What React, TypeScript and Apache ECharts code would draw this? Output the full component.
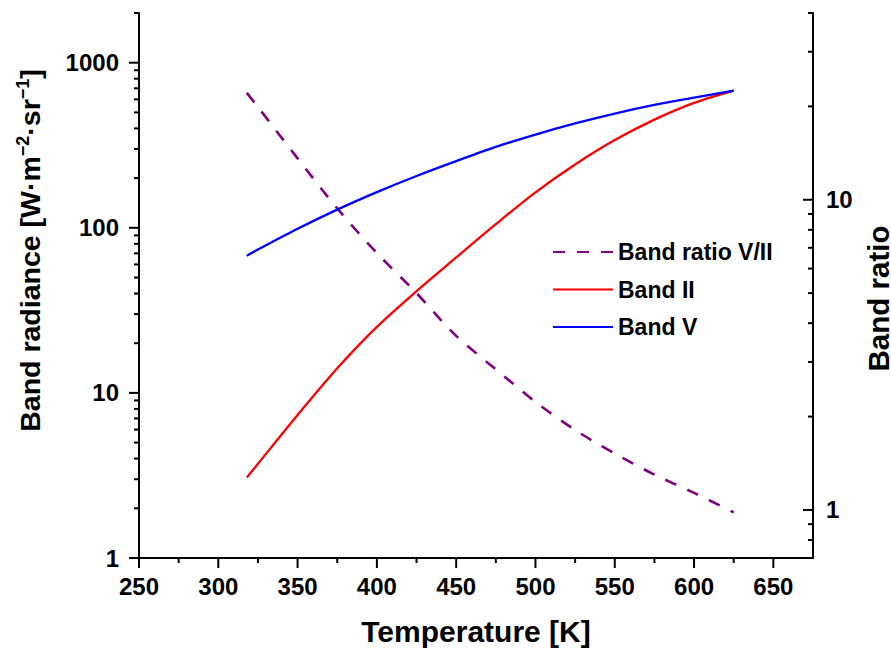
import React, { useEffect, useRef } from "react";
import * as echarts from "echarts";

const temperatures = [318, 325, 350, 375, 400, 425, 450, 475, 500, 525, 550, 575, 600, 625];
const bandII = [3.07, 3.72, 7.35, 14.1, 25.1, 41.3, 66.1, 105.2, 164, 242, 340, 452, 571, 678];
const bandV = [67.8, 73.8, 98.6, 128.8, 164.4, 206, 253.5, 309, 367, 428.5, 492, 554.6, 613.8, 677.6];
const bandRatio = [22.1, 19.9, 13.6, 9.38, 6.73, 5.0, 3.64, 2.84, 2.23, 1.81, 1.52, 1.3, 1.135, 0.982];

const xMajorTicks = [250, 300, 350, 400, 450, 500, 550, 600, 650];
const xMinorTicks = [275, 325, 375, 425, 475, 525, 575, 625];
const leftMajorTicks = [1, 10, 100, 1000];
const leftMinorTicks = [2, 3, 4, 5, 6, 7, 8, 9, 20, 30, 40, 50, 60, 70, 80, 90, 200, 300, 400, 500, 600, 700, 800, 900, 2000];
const rightMajorTicks = [1, 10];
const rightMinorTicks = [0.7, 0.8, 0.9, 2, 3, 4, 5, 6, 7, 8, 9, 20, 30, 40];

const X_MIN = 250;
const X_MAX = 675;
const LEFT_MIN = 1;
const LEFT_MAX = 2000;
const RIGHT_MIN = 0.7;
const RIGHT_MAX = 40;

const FONT = '"Liberation Sans", Arial, Helvetica, sans-serif';
const BLACK = "#000";

const isIn = (list: number[], v: number) => list.some((t) => Math.abs(t - v) < 1e-6 * Math.max(1, Math.abs(t)));

export default function App() {
  const ref = useRef<HTMLDivElement>(null);

  useEffect(() => {
    if (!ref.current) return;
    const chart = echarts.init(ref.current, null, { renderer: "svg" });

    const pair = (ys: number[]) => temperatures.map((t, i) => [t, ys[i]]);
    const lineAxis = { show: true, onZero: false, lineStyle: { color: BLACK, width: 2 } };
    const labelStyle = { color: BLACK, fontSize: 24, fontWeight: "bold" as const, fontFamily: FONT };

    chart.setOption({
      animation: false,
      backgroundColor: "#ffffff",
      grid: { left: 139, right: 78, top: 13, bottom: 92, containLabel: false, outerBoundsMode: "none" },
      legend: {
        orient: "vertical",
        left: 552,
        top: 240,
        padding: 0,
        itemWidth: 60,
        itemHeight: 14,
        itemGap: 13.5,
        itemStyle: { opacity: 0 },
        textStyle: { color: BLACK, fontSize: 23, fontWeight: "bold", fontFamily: FONT, lineHeight: 24 },
        data: ["Band ratio V/II", "Band II", "Band V"],
      },
      xAxis: [
        {
          type: "value",
          min: X_MIN,
          max: X_MAX,
          interval: 50,
          position: "bottom",
          axisLine: lineAxis,
          axisTick: { show: false },
          axisLabel: { ...labelStyle, margin: 16, formatter: (v: number) => (isIn(xMajorTicks, v) ? String(v) : "") },
          splitLine: { show: false },
          name: "Temperature [K]",
          nameLocation: "middle",
          nameGap: 58,
          nameTextStyle: { color: BLACK, fontSize: 30, fontWeight: "bold", fontFamily: FONT },
        },
      ],
      yAxis: [
        {
          type: "log",
          logBase: 10,
          min: LEFT_MIN,
          max: LEFT_MAX,
          position: "left",
          axisLine: lineAxis,
          axisTick: { show: false },
          axisLabel: { ...labelStyle, margin: 20, formatter: (v: number) => (isIn(leftMajorTicks, v) ? String(v) : "") },
          splitLine: { show: false },
          name: "Band radiance [W·m{s|−2}·sr{s|−1}]",
          nameLocation: "middle",
          nameGap: 94,
          nameRotate: 90,
          nameTextStyle: {
            color: BLACK,
            fontSize: 28.5,
            fontWeight: "bold",
            fontFamily: FONT,
            padding: [0, 0, 0, 70],
            rich: {
              s: { fontSize: 18, fontWeight: "bold", fontFamily: FONT, color: BLACK, verticalAlign: "bottom", padding: [0, 0, 13, 0] },
            },
          },
        },
        {
          type: "log",
          logBase: 10,
          min: RIGHT_MIN,
          max: RIGHT_MAX,
          position: "right",
          axisLine: lineAxis,
          axisTick: { show: false },
          axisLabel: { ...labelStyle, margin: 13, formatter: (v: number) => (isIn(rightMajorTicks, v) ? String(v) : "") },
          splitLine: { show: false },
          name: "Band ratio",
          nameLocation: "middle",
          nameGap: 44,
          nameRotate: 90,
          nameTextStyle: { color: BLACK, fontSize: 29.5, lineHeight: 30, fontWeight: "bold", fontFamily: FONT, padding: [0, 26, 0, 0] },
        },
      ],
      series: [
        {
          name: "Band ratio V/II",
          type: "line",
          xAxisIndex: 0,
          yAxisIndex: 1,
          data: pair(bandRatio),
          symbol: "none",
          smooth: 0.3,
          lineStyle: { color: "#800080", width: 2.6, type: [12, 12] },
          itemStyle: { color: "#800080" },
        },
        {
          name: "Band II",
          type: "line",
          xAxisIndex: 0,
          yAxisIndex: 0,
          data: pair(bandII),
          symbol: "none",
          smooth: 0.3,
          lineStyle: { color: "#ff0000", width: 2.3 },
          itemStyle: { color: "#ff0000" },
        },
        {
          name: "Band V",
          type: "line",
          xAxisIndex: 0,
          yAxisIndex: 0,
          data: pair(bandV),
          symbol: "none",
          smooth: 0.3,
          lineStyle: { color: "#0000ff", width: 2.3 },
          itemStyle: { color: "#0000ff" },
        },
      ],
    });

    // Tick marks as thin filled rects, positioned through the chart's own scales.
    const ticks: any[] = [];
    const leftFinder = { xAxisIndex: 0, yAxisIndex: 0 };
    const rightFinder = { xAxisIndex: 0, yAxisIndex: 1 };
    const addTick = (p: number[] | null, dir: "down" | "left", len: number) => {
      if (!p) return;
      const shape =
        dir === "down"
          ? { x: p[0] - 1, y: p[1], width: 2, height: len }
          : { x: p[0] - len, y: p[1] - 1, width: len, height: 2 };
      ticks.push({ type: "rect", z: 100, shape, style: { fill: "#000" } });
    };
    xMajorTicks.forEach((v) => addTick(chart.convertToPixel(leftFinder, [v, LEFT_MIN]) as number[], "down", 10));
    xMinorTicks.forEach((v) => addTick(chart.convertToPixel(leftFinder, [v, LEFT_MIN]) as number[], "down", 5));
    leftMajorTicks.forEach((v) => addTick(chart.convertToPixel(leftFinder, [X_MIN, v]) as number[], "left", 10));
    leftMinorTicks.forEach((v) => addTick(chart.convertToPixel(leftFinder, [X_MIN, v]) as number[], "left", 5));
    rightMajorTicks.forEach((v) => addTick(chart.convertToPixel(rightFinder, [X_MAX, v]) as number[], "left", 10));
    rightMinorTicks.forEach((v) => addTick(chart.convertToPixel(rightFinder, [X_MAX, v]) as number[], "left", 5));
    chart.setOption({ graphic: { elements: ticks } });

    return () => chart.dispose();
  }, []);

  return <div ref={ref} style={{ position: "absolute", left: 0, top: 0, width: 891, height: 650 }} />;
}
